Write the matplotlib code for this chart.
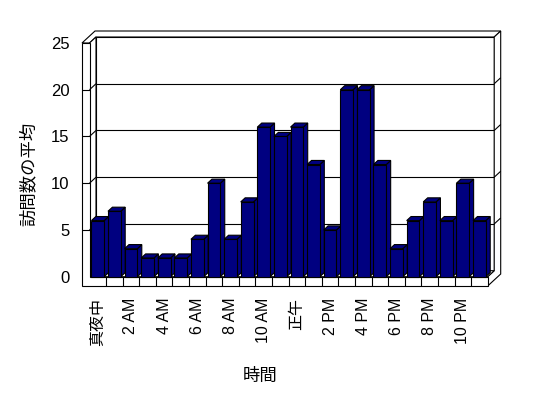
import matplotlib
matplotlib.use('Agg')
import matplotlib.pyplot as plt
from matplotlib.patches import Polygon

# ---- data ----
hours = list(range(24))
visits = [6, 7, 3, 2, 2, 2, 4, 10, 4, 8, 16, 15, 16, 12, 5, 20, 20, 12, 3, 6, 8, 6, 10, 6]
tick_labels = ['真夜中', '2 AM', '4 AM', '6 AM', '8 AM', '10 AM',
               '正午', '2 PM', '4 PM', '6 PM', '8 PM', '10 PM']
y_ticks = [0, 5, 10, 15, 20, 25]
x_title = '時間'
y_title = '訪問数の平均'

plt.rcParams['font.family'] = ['Liberation Sans', 'Noto Sans CJK JP']

W, H = 548, 398
fig = plt.figure(figsize=(W / 100, H / 100), dpi=100)
fig.patch.set_facecolor('white')

x0px, x1px = 89.5, 487.7
y0px, y1px = H - 276.7, H - 43.0
ax = fig.add_axes([x0px / W, y0px / H, (x1px - x0px) / W, (y1px - y0px) / H])
n = len(visits)
ymax = y_ticks[-1]
ax.set_xlim(0, n)
ax.set_ylim(0, ymax)
ax.patch.set_visible(False)
for s in ax.spines.values():
    s.set_visible(False)

pxx = (x1px - x0px) / n
pxy = (y1px - y0px) / ymax
Dx, Dy = 6.5 / pxx, 6.0 / pxy      # depth vector (data units)
t = 7.5 / pxx                      # wall thickness
fl = 9.3 / pxy                     # floor thickness
bd = 0.68                          # bar depth (fraction of D)
bw = 0.77                          # bar width

LW = 0.8


def P(x, y, d):
    return (x + d * Dx, y + d * Dy)


def poly(pts, fc='white', z=1):
    ax.add_patch(Polygon([P(*p) for p in pts], closed=True, facecolor=fc,
                         edgecolor='black', linewidth=LW, zorder=z,
                         clip_on=False, joinstyle='miter'))


def line(a, b, z=2):
    pa, pb = P(*a), P(*b)
    ax.plot([pa[0], pb[0]], [pa[1], pb[1]], color='black', lw=LW,
            zorder=z, clip_on=False, solid_capstyle='butt')


# back wall front face
poly([(0, 0, 1), (n, 0, 1), (n, ymax, 1), (0, ymax, 1)], z=1)
# top surface (left wall top + back wall top)
poly([(-t, ymax, 0), (0, ymax, 0), (0, ymax, 1), (n, ymax, 1),
      (n, ymax, 2), (-t, ymax, 2)], z=1)
# right end faces (back wall + floor)
poly([(n, 0, 0), (n, 0, 1), (n, ymax, 1), (n, ymax, 2),
      (n, -fl, 2), (n, -fl, 0)], z=1)
# left wall inner face
poly([(0, 0, 0), (0, 0, 1), (0, ymax, 1), (0, ymax, 0)], z=1)
# floor top
poly([(0, 0, 0), (n, 0, 0), (n, 0, 1), (0, 0, 1)], z=1)
# front faces (left wall + floor)
poly([(-t, -fl, 0), (n, -fl, 0), (n, 0, 0), (0, 0, 0),
      (0, ymax, 0), (-t, ymax, 0)], z=1)

# gridlines
for v in y_ticks[1:-1]:
    line((0, v, 1), (n, v, 1))
    line((0, v, 0), (0, v, 1))
    line((-t, v, 0), (0, v, 0))
    line((n, v, 1), (n, v, 2))
# floor category ticks
for k in range(1, n):
    line((k, 0, 0), (k, -fl, 0))

# bars
navy = '#000080'
z = 5
for i, v in zip(hours, visits):
    xl = i + (1 - bw) / 2
    xr = xl + bw
    poly([(xr, 0, 0), (xr, 0, bd), (xr, v, bd), (xr, v, 0)], fc=navy, z=z)
    poly([(xl, v, 0), (xr, v, 0), (xr, v, bd), (xl, v, bd)], fc=navy, z=z)
    poly([(xl, 0, 0), (xr, 0, 0), (xr, v, 0), (xl, v, 0)], fc=navy, z=z)
    z += 1

# ticks
ax.set_yticks(y_ticks)
ax.set_yticklabels([str(v) for v in y_ticks])
ax.set_xticks([i + 0.5 for i in hours[::2]])
ax.set_xticklabels(tick_labels, rotation=90)
ax.tick_params(axis='y', length=0, pad=14.5, labelsize=12)
ax.tick_params(axis='x', length=0, pad=15, labelsize=11.5)

fig.text(260 / W, 1 - 376 / H, x_title, ha='center', va='center', fontsize=12.5)
fig.text(28 / W, 1 - 174 / H, y_title, ha='center', va='center',
         rotation=90, fontsize=12.5)

fig.savefig('out.png', dpi=100, facecolor='white')
